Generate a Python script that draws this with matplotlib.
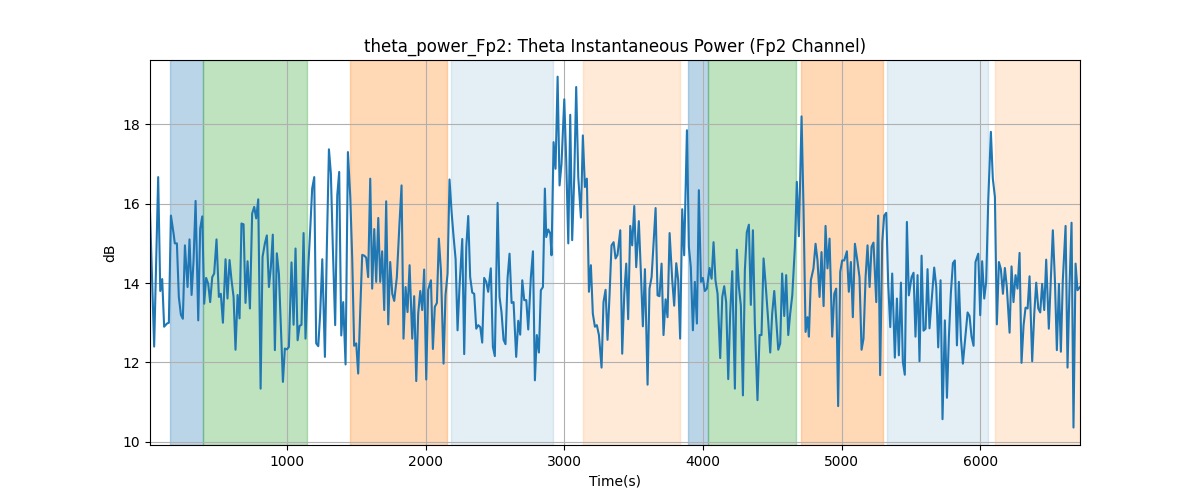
import matplotlib
matplotlib.use('Agg')
import matplotlib.pyplot as plt
import numpy as np

# time (s) and theta power (dB)
time_s = [10, 40, 69, 84, 98, 112, 132, 146, 161, 180, 189, 204, 218, 233, 247, 262, 281, 295, 310, 324,
          339, 358, 372, 387, 401, 415, 430, 444, 459, 473, 490, 507, 521, 536, 555, 569, 584, 598, 613, 627,
          642, 656, 670, 685, 699, 714, 731, 747, 762, 776, 791, 808, 822, 839, 853, 868, 882, 896, 911, 925,
          940, 969, 983, 998, 1012, 1031, 1046, 1060, 1075, 1089, 1103, 1118, 1132, 1152, 1166, 1180, 1195, 1209, 1224, 1238,
          1253, 1272, 1286, 1301, 1315, 1329, 1346, 1361, 1375, 1390, 1404, 1421, 1438, 1455, 1469, 1483, 1498, 1512, 1527, 1541,
          1556, 1570, 1584, 1599, 1613, 1628, 1642, 1657, 1671, 1685, 1700, 1714, 1729, 1743, 1758, 1772, 1791, 1810, 1825, 1839,
          1854, 1868, 1883, 1902, 1916, 1931, 1945, 1960, 1974, 1988, 2003, 2017, 2037, 2051, 2065, 2080, 2094, 2109, 2128, 2142,
          2157, 2171, 2186, 2200, 2215, 2229, 2243, 2263, 2277, 2292, 2306, 2320, 2335, 2349, 2364, 2378, 2393, 2407, 2421, 2436,
          2450, 2469, 2484, 2498, 2518, 2532, 2546, 2561, 2575, 2590, 2604, 2619, 2633, 2652, 2667, 2681, 2696, 2710, 2725, 2739,
          2758, 2773, 2787, 2801, 2816, 2830, 2845, 2859, 2869, 2883, 2898, 2907, 2922, 2936, 2951, 2965, 2979, 2999, 3013, 3028,
          3042, 3056, 3071, 3085, 3100, 3119, 3133, 3148, 3162, 3177, 3191, 3205, 3220, 3234, 3249, 3268, 3282, 3297, 3311, 3326,
          3340, 3355, 3369, 3383, 3403, 3417, 3432, 3446, 3460, 3475, 3489, 3504, 3518, 3537, 3552, 3566, 3581, 3600, 3614, 3629,
          3643, 3658, 3672, 3686, 3701, 3715, 3730, 3744, 3759, 3778, 3792, 3807, 3821, 3835, 3850, 3864, 3884, 3898, 3912, 3927,
          3941, 3956, 3970, 3985, 3999, 4013, 4028, 4047, 4062, 4076, 4090, 4105, 4124, 4139, 4153, 4167, 4182, 4196, 4211, 4230,
          4244, 4259, 4273, 4288, 4302, 4316, 4331, 4345, 4360, 4374, 4393, 4408, 4422, 4437, 4451, 4470, 4485, 4499, 4514, 4528,
          4543, 4557, 4571, 4586, 4600, 4615, 4629, 4644, 4663, 4677, 4692, 4711, 4725, 4740, 4754, 4764, 4778, 4797, 4812, 4826,
          4841, 4855, 4870, 4884, 4898, 4913, 4932, 4947, 4961, 4975, 4990, 5004, 5019, 5038, 5052, 5067, 5081, 5096, 5115, 5129,
          5144, 5158, 5173, 5187, 5202, 5216, 5230, 5250, 5264, 5278, 5293, 5307, 5322, 5336, 5351, 5365, 5384, 5399, 5413, 5428,
          5442, 5456, 5471, 5485, 5505, 5519, 5533, 5548, 5562, 5577, 5591, 5606, 5620, 5634, 5649, 5668, 5683, 5697, 5714, 5728,
          5745, 5760, 5774, 5788, 5803, 5817, 5832, 5846, 5861, 5875, 5894, 5909, 5923, 5937, 5952, 5966, 5986, 6000, 6014, 6029,
          6043, 6058, 6077, 6091, 6106, 6120, 6135, 6149, 6164, 6178, 6192, 6212, 6226, 6240, 6255, 6269, 6284, 6298, 6313, 6327,
          6342, 6356, 6375, 6390, 6404, 6419, 6433, 6447, 6462, 6476, 6495, 6510, 6524, 6539, 6553, 6568, 6582, 6596, 6616, 6630,
          6645, 6659, 6673, 6688, 6702, 6720]

theta_db = [15.8, 12.4, 16.67, 13.8, 14.1, 12.9, 12.98, 13.0, 15.7, 15.25, 15.0, 15.0, 13.65, 13.2, 13.1, 14.95, 13.9, 15.1, 13.7, 14.55,
            16.07, 13.06, 15.37, 15.68, 13.48, 14.13, 13.98, 13.52, 14.15, 14.24, 15.1, 13.65, 13.73, 13.0, 14.6, 13.61, 14.58, 14.08, 13.65, 12.32,
            13.7, 13.11, 15.5, 15.48, 13.5, 14.55, 13.36, 15.75, 15.92, 15.63, 16.11, 11.34, 14.66, 15.0, 15.2, 13.9, 14.4, 15.22, 12.31, 14.75,
            14.24, 11.51, 12.35, 12.33, 12.39, 14.52, 12.95, 14.87, 12.56, 12.92, 12.95, 15.26, 12.6, 14.4, 15.35, 16.38, 16.67, 12.48, 12.41, 13.24,
            14.6, 12.14, 14.91, 17.37, 16.76, 14.91, 12.94, 16.21, 16.8, 12.68, 13.52, 11.95, 17.3, 16.17, 14.62, 12.42, 12.48, 11.72, 13.32, 14.71,
            14.69, 14.64, 14.15, 16.63, 13.86, 15.36, 14.03, 15.64, 14.03, 14.8, 13.32, 16.06, 12.96, 14.53, 13.73, 13.55, 14.15, 15.5, 16.46, 12.6,
            13.9, 13.27, 14.45, 12.6, 13.67, 11.53, 13.23, 13.8, 13.32, 14.34, 11.57, 13.83, 14.07, 12.34, 13.4, 13.5, 15.12, 14.32, 11.97, 13.69,
            14.24, 16.61, 15.79, 15.18, 14.6, 12.81, 13.9, 15.11, 12.21, 14.91, 15.69, 14.15, 13.76, 13.73, 12.85, 12.94, 12.89, 12.5, 14.13, 14.03,
            13.78, 14.37, 12.39, 12.16, 16.02, 13.65, 13.27, 12.57, 12.46, 14.13, 14.74, 13.5, 13.52, 12.14, 13.05, 12.7, 14.07, 13.57, 13.57, 12.83,
            14.15, 14.8, 11.55, 12.69, 12.25, 13.82, 13.9, 16.38, 15.16, 15.35, 15.25, 14.7, 17.55, 16.88, 19.2, 16.46, 17.0, 18.63, 17.09, 15.0,
            18.24, 15.08, 16.67, 18.94, 16.67, 15.65, 17.72, 16.42, 16.63, 13.78, 14.45, 13.23, 12.9, 12.94, 12.69, 11.87, 13.52, 13.83, 12.57, 13.73,
            14.95, 15.03, 14.62, 14.71, 15.33, 12.22, 13.73, 14.49, 13.09, 15.44, 14.95, 15.94, 14.4, 15.56, 14.24, 12.91, 14.35, 11.44, 13.86, 14.15,
            14.99, 15.89, 13.69, 13.67, 14.49, 12.69, 13.59, 13.14, 15.26, 14.07, 13.43, 14.5, 14.07, 12.6, 15.86, 14.7, 17.85, 14.91, 14.4, 12.81,
            14.03, 12.98, 16.34, 14.03, 14.13, 13.8, 13.86, 14.38, 14.11, 15.03, 14.07, 13.73, 12.11, 13.65, 13.92, 13.52, 11.58, 13.23, 14.3, 11.34,
            14.84, 13.9, 13.44, 11.17, 14.32, 15.28, 15.47, 13.45, 15.33, 12.98, 11.05, 12.69, 12.69, 14.62, 14.01, 13.07, 12.25, 13.23, 13.8, 13.07,
            12.32, 12.48, 14.24, 13.17, 14.2, 12.69, 13.23, 13.69, 14.91, 16.55, 15.18, 18.2, 15.92, 12.77, 13.14, 12.65, 14.07, 14.37, 14.99, 14.57,
            13.65, 14.78, 13.42, 15.44, 14.37, 15.12, 12.65, 13.73, 13.86, 10.9, 14.28, 14.57, 14.57, 14.8, 13.78, 14.53, 13.14, 14.99, 14.53, 14.15,
            12.32, 12.6, 14.15, 14.95, 13.9, 14.91, 15.02, 13.52, 15.7, 11.68, 15.03, 15.7, 15.77, 13.98, 12.89, 14.24, 12.12, 13.61, 12.18, 14.01,
            12.01, 11.69, 15.54, 13.69, 14.15, 14.26, 12.65, 14.2, 12.03, 14.69, 12.8, 12.85, 14.35, 12.86, 13.52, 14.39, 13.9, 12.38, 14.07, 10.57,
            13.06, 11.11, 12.64, 13.73, 14.5, 14.57, 12.43, 14.03, 12.6, 11.97, 12.69, 13.26, 13.17, 12.66, 12.42, 14.53, 14.74, 13.19, 14.55, 13.61,
            14.03, 16.09, 17.81, 16.63, 16.17, 12.96, 14.53, 14.35, 13.73, 14.38, 13.9, 12.75, 14.42, 13.52, 14.2, 13.86, 14.76, 11.99, 12.94, 13.38,
            13.36, 14.17, 12.03, 13.23, 14.01, 13.36, 13.26, 13.98, 13.32, 14.59, 12.85, 14.15, 15.33, 14.07, 12.31, 13.98, 12.27, 14.07, 15.44, 11.87,
            13.98, 15.52, 10.36, 14.49, 13.82, 13.9]

# shaded stage intervals: (start, end, colour, alpha)
span_start = [156, 395, 1454, 2183, 3136, 3892, 4037, 4708, 5327, 6108]
span_end = [395, 1144, 2155, 2919, 3836, 4037, 4670, 5302, 6055, 6720]
span_color = ['tab:blue', 'tab:green', 'tab:orange', 'tab:blue', 'tab:orange',
              'tab:blue', 'tab:green', 'tab:orange', 'tab:blue', 'tab:orange']
span_alpha = [0.3, 0.3, 0.3, 0.12, 0.16, 0.3, 0.3, 0.3, 0.12, 0.16]

fig, ax = plt.subplots(figsize=(12, 5), dpi=100)

for s, e, c, a in zip(span_start, span_end, span_color, span_alpha):
    ax.axvspan(s, e, color=c, alpha=a)

ax.plot(time_s, theta_db, color='tab:blue')
ax.set_xlim(time_s[0], time_s[-1])
ax.set_ylim(9.92, 19.62)
ax.grid(True)
ax.set_title('theta_power_Fp2: Theta Instantaneous Power (Fp2 Channel)')
ax.set_xlabel('Time(s)')
ax.set_ylabel('dB')

plt.savefig('out.png')
